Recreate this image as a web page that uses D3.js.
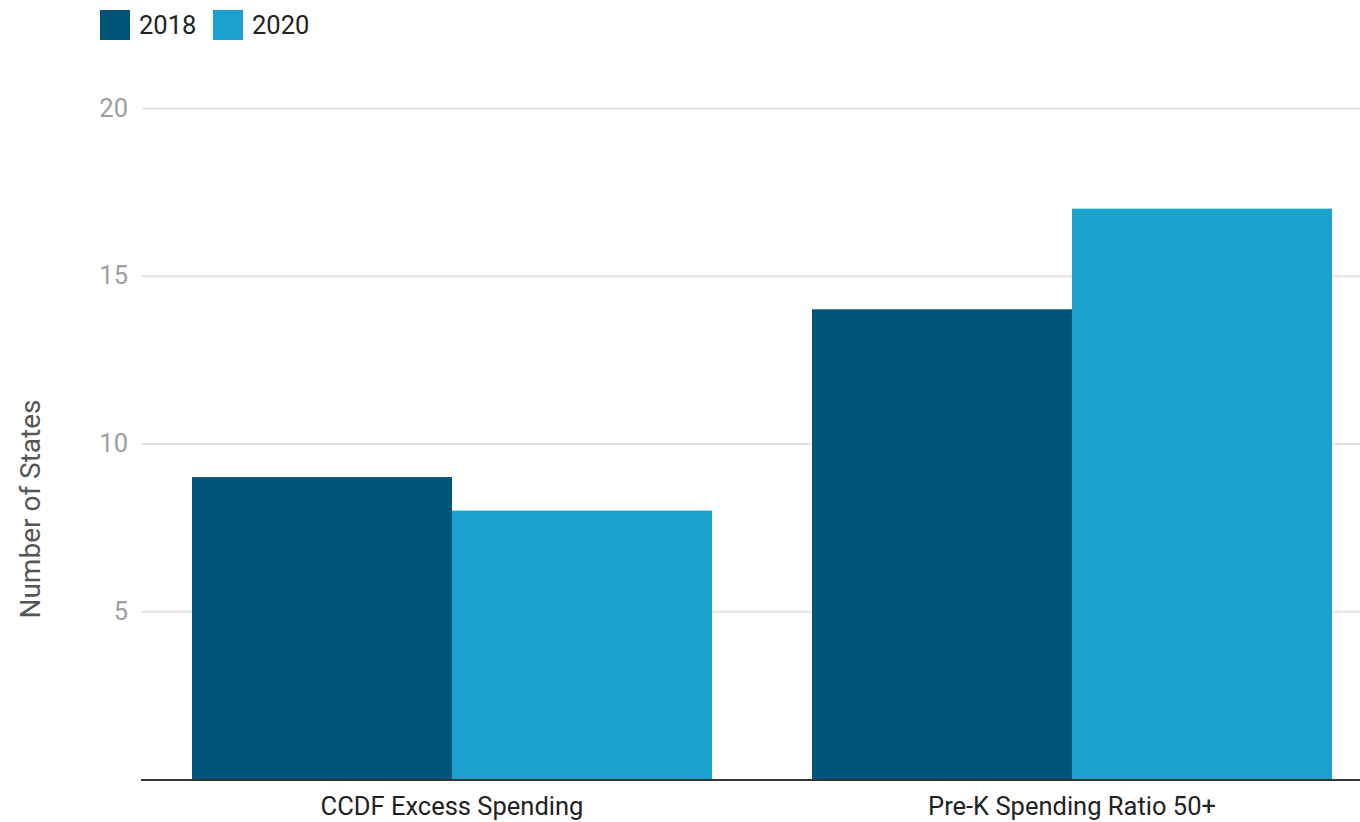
<!DOCTYPE html>
<html><head><meta charset="utf-8">
<script src="https://cdn.jsdelivr.net/npm/d3@7"></script>
<style>body{margin:0;background:#fff;} text{font-family:Roboto, "Noto Sans", sans-serif;}</style>
</head><body>
<svg id="c" width="1360" height="822"></svg>
<script>
const categories = ["CCDF Excess Spending", "Pre-K Spending Ratio 50+"];
const seriesNames = ["2018", "2020"];
const values2018 = [9, 14];
const values2020 = [8, 17];
const yTicks = [5, 10, 15, 20];
const colors = ["#01537a", "#1aa1ce"];
const yTitle = "Number of States";

const svg = d3.select("#c");
const W = 1360, H = 822;
const x0 = d3.scaleBand().domain(categories).range([142, 1382]).paddingInner(100/620).paddingOuter(50/620);
const x1 = d3.scaleBand().domain(seriesNames).range([0, x0.bandwidth()]);
const y = d3.scaleLinear().domain([0, 20]).range([779, 108]);

// gridlines
const grid = svg.append("g")
  .attr("transform","translate(142,0)")
  .call(d3.axisLeft(y).tickValues(yTicks).tickSize(-(W-142)).tickFormat(d3.format("d")).tickPadding(14));
grid.select(".domain").remove();
grid.selectAll(".tick line").attr("stroke","#e3e3e3").attr("stroke-width",2);
grid.selectAll(".tick text").attr("fill","#9e9e9e").style("font-size","25.5px").attr("x",-14);

// bars
const data = categories.map((c,i)=>({cat:c, vals:[values2018[i], values2020[i]]}));
const g = svg.append("g");
data.forEach(d=>{
  seriesNames.forEach((s,j)=>{
    g.append("rect")
      .attr("x", x0(d.cat)+x1(s))
      .attr("y", y(d.vals[j]))
      .attr("width", x1.bandwidth())
      .attr("height", y(0)-y(d.vals[j]))
      .attr("fill", colors[j]);
  });
});

// x axis
const xa = svg.append("g").attr("transform","translate(0,780)")
  .call(d3.axisBottom(x0).tickSize(0).tickPadding(17));
xa.select(".domain").remove();
xa.selectAll(".tick text").attr("fill","#222").style("font-size","25.5px");
svg.append("line").attr("x1",141).attr("x2",W).attr("y1",780).attr("y2",780)
  .attr("stroke","#333").attr("stroke-width",2);

// y title
svg.append("text").attr("transform","translate(40,509) rotate(-90)")
  .attr("text-anchor","middle").attr("fill","#555").style("font-size","28px").text(yTitle);

// legend
const lg = svg.append("g");
const legX = [100, 213];
seriesNames.forEach((s,j)=>{
  lg.append("rect").attr("x",legX[j]).attr("y",10).attr("width",30).attr("height",30).attr("fill",colors[j]);
  lg.append("text").attr("x",legX[j]+39).attr("y",34).attr("fill","#222").style("font-size","25.5px").text(s);
});
</script>
</body></html>
